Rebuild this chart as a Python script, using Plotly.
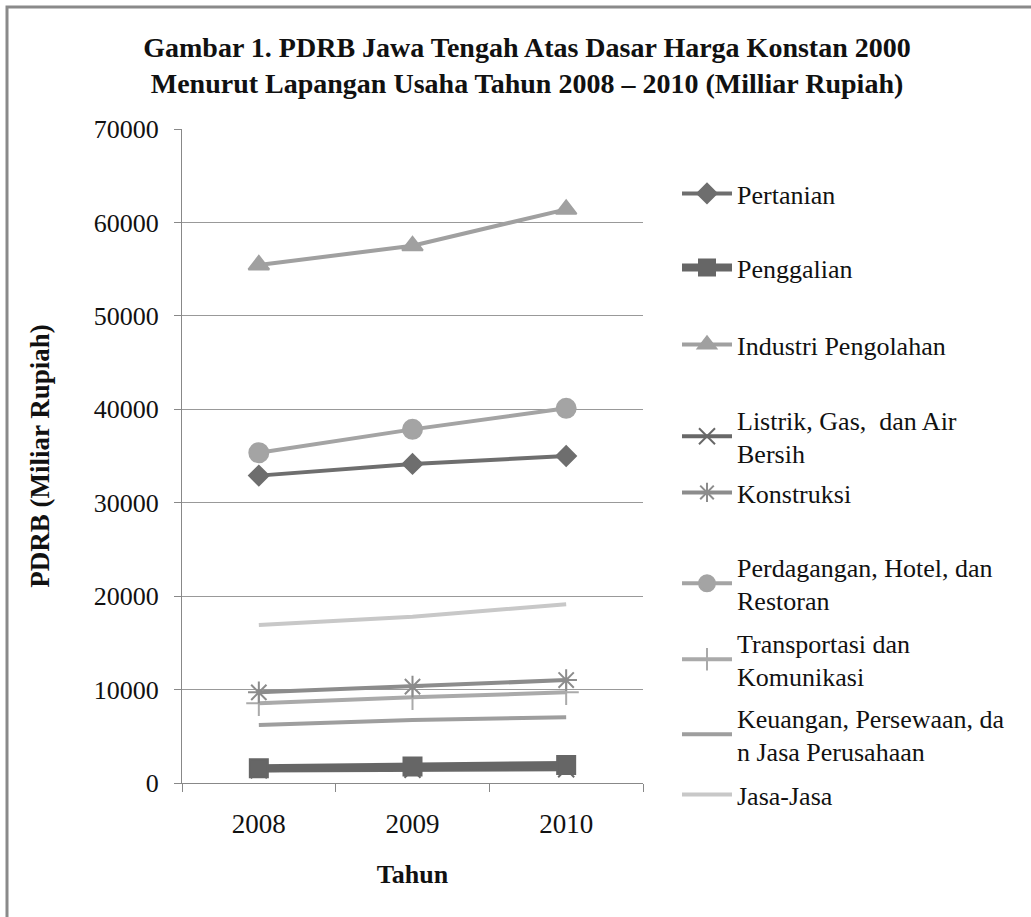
import plotly.graph_objects as go

W, H = 1031, 917

years = ["2008", "2009", "2010"]

pertanian = [32900, 34150, 35000]
penggalian = [1580, 1760, 1930]
industri = [55450, 57500, 61400]
listrik = [1350, 1420, 1480]
konstruksi = [9700, 10320, 11020]
perdagangan = [35350, 37850, 40100]
transportasi = [8530, 9170, 9700]
keuangan = [6220, 6740, 7030]
jasa = [16900, 17800, 19130]

series_names = [
    "Pertanian",
    "Penggalian",
    "Industri Pengolahan",
    "Listrik, Gas,  dan Air<br>Bersih",
    "Konstruksi",
    "Perdagangan, Hotel, dan<br>Restoran",
    "Transportasi dan<br>Komunikasi",
    "Keuangan, Persewaan, da<br>n Jasa Perusahaan",
    "Jasa-Jasa",
]
series_values = [pertanian, penggalian, industri, listrik, konstruksi,
                 perdagangan, transportasi, keuangan, jasa]

y_ticks = [0, 10000, 20000, 30000, 40000, 50000, 60000, 70000]
y_tick_text = ["0", "10000", "20000", "30000", "40000", "50000", "60000", "70000"]

# style per series: (line colour, line width, marker symbol, marker size, line shape)
styles = [
    ("#6e6e6e", 4, "diamond", 15, "linear"),
    ("#666666", 8, "square", 18, "linear"),
    ("#a0a0a0", 4, "triangle-up", 18, "linear"),
    ("#686868", 4, "x-thin-open", 16, "linear"),
    ("#8c8c8c", 4, "asterisk-open", 18, "linear"),
    ("#a4a4a4", 4, "circle", 19, "linear"),
    ("#aaaaaa", 4, "cross-thin-open", 18, "linear"),
    ("#9e9e9e", 4, None, 0, "spline"),
    ("#c8c8c8", 4, None, 0, "spline"),
]

# legend slot: first-line centre in px from the top
legend_rows = [196, 270, 347, 422, 495, 569, 645, 720, 797]

FONT = "Liberation Serif"

fig = go.Figure()
for i in range(len(series_names)):
    color, lw, sym, ms, shape = styles[i]
    mode = "lines+markers" if sym else "lines"
    marker = dict(symbol=sym, size=ms, color=color,
                  line=dict(color=color, width=2)) if sym else None
    lg = "legend" if i == 0 else f"legend{i + 1}"
    line = dict(color=color, width=lw, shape=shape)
    if shape == "spline":
        line["smoothing"] = 0.4
    fig.add_trace(go.Scatter(
        x=years, y=series_values[i], name=series_names[i], mode=mode,
        line=line, marker=marker, legend=lg, showlegend=True,
    ))

# draw the thick Penggalian line and its markers on top
draw_order = [8, 7, 6, 4, 5, 0, 2, 3, 1]
fig.data = tuple(fig.data[k] for k in draw_order)

pl, pr, pt, pb = 182, 643, 129, 783

layout_legends = {}
for i, row in enumerate(legend_rows):
    key = "legend" if i == 0 else f"legend{i + 1}"
    layout_legends[key] = dict(
        x=677 / W, y=1 - (row - 26) / H, xref="container", yref="container",
        xanchor="left", yanchor="top", bgcolor="rgba(0,0,0,0)",
        font=dict(family=FONT, size=26, color="#111"),
        itemwidth=50, tracegroupgap=0,
    )

fig.update_layout(
    width=W, height=H,
    paper_bgcolor="white", plot_bgcolor="white",
    margin=dict(l=pl, r=W - pr, t=pt, b=H - pb, pad=0),
    title=dict(
        text="Gambar 1. PDRB Jawa Tengah Atas Dasar Harga Konstan 2000<br>"
             "Menurut Lapangan Usaha Tahun 2008 – 2010 (Milliar Rupiah)",
        x=527 / W, xref="container", xanchor="center",
        y=1 - 57 / H, yref="container", yanchor="middle",
        font=dict(family=FONT, size=28, color="#111", weight="bold"),
    ),
    xaxis=dict(
        type="category", range=[-0.5, 2.5], tickson="boundaries",
        ticks="outside", ticklen=8, tickcolor="#888", tickwidth=1,
        showline=True, linecolor="#888", linewidth=1,
        showgrid=False, zeroline=False,
        tickfont=dict(family=FONT, size=27, color="#111"),
        ticklabelstandoff=17,
        title=dict(text="<b>Tahun</b>", font=dict(family=FONT, size=26, color="#111"),
                   standoff=26),
    ),
    yaxis=dict(
        range=[0, 70000], tickvals=y_ticks, ticktext=y_tick_text,
        ticks="outside", ticklen=7,
        tickcolor="#888", showline=True, linecolor="#888", linewidth=1,
        showgrid=True, gridcolor="#999", gridwidth=1, zeroline=False,
        tickfont=dict(family=FONT, size=26, color="#111"),
        ticklabelstandoff=10,
        title=dict(text="<b>PDRB (Miliar Rupiah)</b>",
                   font=dict(family=FONT, size=27, color="#111"), standoff=36),
    ),
    showlegend=True,
    **layout_legends,
)

# outer chart frame (left and top edges visible)
pw = pr - pl
ph = pb - pt


def px_x(v):
    return (v - pl) / pw


def px_y(v):
    return (pb - v) / ph


fig.add_shape(type="rect", xref="paper", yref="paper",
              x0=px_x(7), x1=px_x(W + 10), y0=px_y(H + 10), y1=px_y(7),
              line=dict(color="#8a8a8a", width=3), fillcolor="rgba(0,0,0,0)",
              layer="below")

fig.write_html("out.html")
